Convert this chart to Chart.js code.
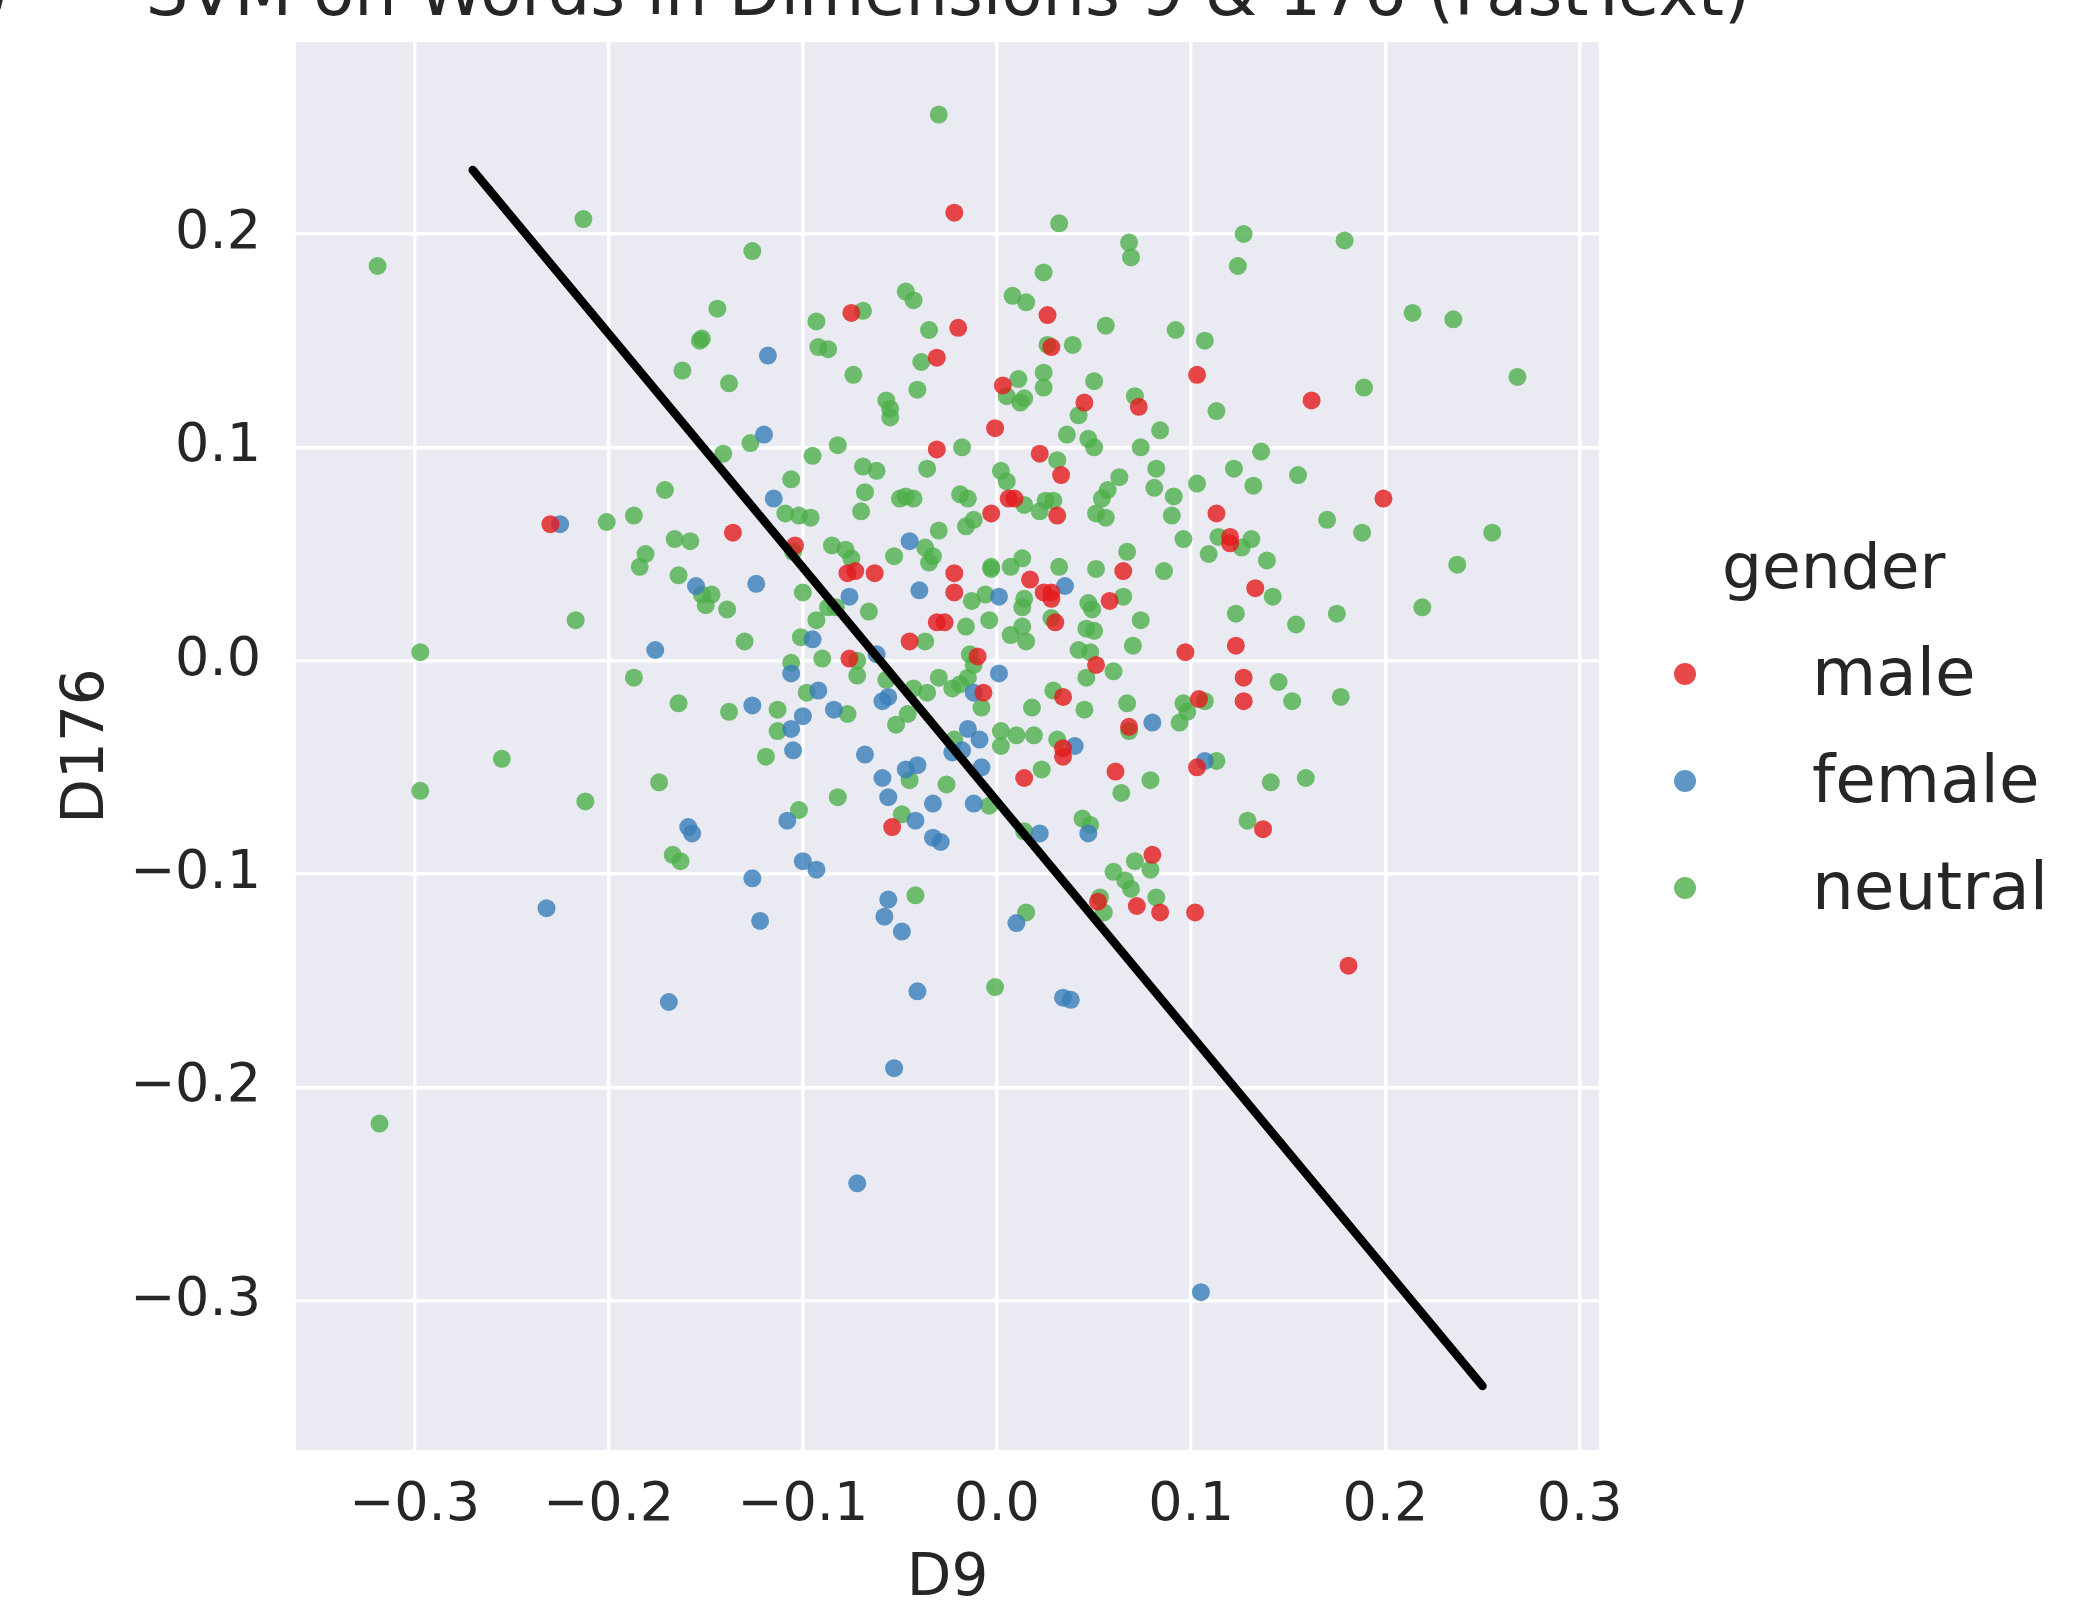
<!DOCTYPE html>
<html>
<head>
<meta charset="utf-8">
<script src="https://cdn.jsdelivr.net/npm/chart.js@4.4.1/dist/chart.umd.min.js"></script>
<style>
  html, body { margin: 0; padding: 0; background: #ffffff; }
  #wrap { width: 2085px; height: 1606px; position: relative; }
</style>
</head>
<body>
<div id="wrap"><canvas id="svm-chart"></canvas></div>
<script>
// [D9, D176] for every word
const male = [
  [-0.022, 0.210], [-0.075, 0.163], [-0.020, 0.156], [0.026, 0.162], [-0.031, 0.142],
  [0.028, 0.147], [0.003, 0.129], [0.045, 0.121], [0.073, 0.119], [-0.001, 0.109],
  [-0.031, 0.099], [0.022, 0.097], [0.033, 0.087], [0.006, 0.076], [0.009, 0.076],
  [-0.003, 0.069], [0.031, 0.068], [0.103, 0.134], [0.162, 0.122], [0.199, 0.076],
  [0.113, 0.069], [0.120, 0.058], [0.120, 0.055], [0.133, 0.034], [0.097, 0.004],
  [0.123, 0.007], [0.127, -0.008], [0.127, -0.019], [0.104, -0.018], [0.103, -0.050],
  [0.137, -0.079], [0.084, -0.118], [0.102, -0.118], [0.181, -0.143], [-0.230, 0.064],
  [-0.136, 0.060], [-0.104, 0.054], [-0.077, 0.041], [-0.073, 0.042], [-0.063, 0.041],
  [-0.022, 0.041], [0.017, 0.038], [0.065, 0.042], [-0.022, 0.032], [0.024, 0.032],
  [0.028, 0.032], [0.028, 0.029], [0.058, 0.028], [-0.031, 0.018], [-0.027, 0.018],
  [0.030, 0.018], [-0.045, 0.009], [-0.076, 0.001], [-0.010, 0.002], [0.051, -0.002],
  [-0.007, -0.015], [0.034, -0.017], [0.068, -0.031], [0.034, -0.041], [0.034, -0.045],
  [0.014, -0.055], [0.061, -0.052], [-0.054, -0.078], [0.080, -0.091], [0.052, -0.113],
  [0.072, -0.115]
];

const female = [
  [-0.118, 0.143], [-0.120, 0.106], [-0.115, 0.076], [-0.225, 0.064], [-0.155, 0.035],
  [-0.176, 0.005], [-0.159, -0.078], [-0.157, -0.081], [-0.232, -0.116], [-0.169, -0.160],
  [-0.041, -0.155], [0.034, -0.158], [0.038, -0.159], [-0.053, -0.191], [-0.072, -0.245],
  [0.105, -0.296], [0.107, -0.047], [-0.045, 0.056], [-0.124, 0.036], [-0.040, 0.033],
  [0.035, 0.035], [0.001, 0.030], [-0.076, 0.030], [-0.095, 0.010], [-0.062, 0.003],
  [-0.106, -0.006], [0.001, -0.006], [-0.012, -0.015], [-0.092, -0.014], [-0.059, -0.019],
  [-0.056, -0.017], [-0.126, -0.021], [-0.100, -0.026], [-0.084, -0.023], [-0.106, -0.032],
  [-0.015, -0.032], [-0.009, -0.037], [0.080, -0.029], [0.040, -0.040], [-0.023, -0.043],
  [-0.018, -0.042], [-0.105, -0.042], [-0.068, -0.044], [-0.047, -0.051], [-0.041, -0.049],
  [-0.008, -0.050], [-0.059, -0.055], [-0.056, -0.064], [-0.033, -0.067], [-0.012, -0.067],
  [-0.108, -0.075], [-0.042, -0.075], [-0.033, -0.083], [-0.029, -0.085], [0.022, -0.081],
  [0.047, -0.081], [-0.100, -0.094], [-0.093, -0.098], [-0.126, -0.102], [-0.056, -0.112],
  [-0.058, -0.120], [-0.122, -0.122], [-0.049, -0.127], [0.010, -0.123]
];

const neutral = [
  [-0.213, 0.207], [-0.319, 0.185], [-0.144, 0.165], [-0.153, 0.150], [-0.152, 0.151],
  [-0.162, 0.136], [-0.138, 0.130], [-0.141, 0.097], [-0.171, 0.080],
  [-0.030, 0.256], [0.032, 0.205], [0.068, 0.196], [0.069, 0.189], [-0.126, 0.192],
  [0.024, 0.182], [-0.047, 0.173], [-0.043, 0.169], [0.008, 0.171], [0.015, 0.168],
  [-0.069, 0.164], [-0.093, 0.159], [-0.035, 0.155], [0.056, 0.157], [-0.092, 0.147],
  [-0.087, 0.146], [-0.039, 0.140], [0.026, 0.148], [0.039, 0.148], [-0.074, 0.134],
  [-0.041, 0.127], [-0.057, 0.122], [-0.055, 0.118], [-0.055, 0.114], [0.011, 0.132],
  [0.024, 0.135], [0.024, 0.128], [0.050, 0.131], [0.005, 0.124], [0.012, 0.121],
  [0.014, 0.123], [0.071, 0.124], [0.042, 0.115], [0.036, 0.106], [0.047, 0.104],
  [0.050, 0.100], [0.084, 0.108], [0.074, 0.100], [-0.127, 0.102], [-0.082, 0.101],
  [-0.018, 0.100], [-0.095, 0.096], [0.031, 0.094], [0.002, 0.089], [0.005, 0.084],
  [-0.069, 0.091], [-0.062, 0.089], [-0.036, 0.090], [-0.106, 0.085], [0.063, 0.086],
  [0.082, 0.090], [0.081, 0.081], [0.057, 0.080], [0.054, 0.076], [-0.068, 0.079],
  [-0.050, 0.076], [-0.047, 0.077], [-0.043, 0.076], [-0.019, 0.078], [-0.015, 0.076],
  [0.014, 0.073], [0.025, 0.075], [0.029, 0.075],
  [0.127, 0.200], [0.179, 0.197], [0.124, 0.185], [0.214, 0.163], [0.235, 0.160],
  [0.268, 0.133], [0.092, 0.155], [0.107, 0.150], [0.189, 0.128], [0.113, 0.117],
  [0.136, 0.098], [0.122, 0.090], [0.103, 0.083], [0.132, 0.082], [0.155, 0.087],
  [0.091, 0.077],
  [0.090, 0.068], [0.170, 0.066], [0.188, 0.060], [0.255, 0.060], [0.237, 0.045],
  [0.219, 0.025], [0.096, 0.057], [0.114, 0.058], [0.126, 0.053], [0.131, 0.057],
  [0.109, 0.050], [0.139, 0.047], [0.086, 0.042], [0.142, 0.030], [0.123, 0.022],
  [0.154, 0.017], [0.175, 0.022], [0.145, -0.010], [0.152, -0.019], [0.177, -0.017],
  [0.107, -0.019], [0.096, -0.020], [0.098, -0.024], [0.094, -0.029], [0.113, -0.047],
  [0.141, -0.057], [0.159, -0.055], [0.129, -0.075], [0.082, -0.111],
  [-0.201, 0.065], [-0.187, 0.068], [-0.166, 0.057], [-0.158, 0.056], [-0.181, 0.050],
  [-0.184, 0.044], [-0.164, 0.040], [-0.152, 0.031], [-0.147, 0.031], [-0.150, 0.026],
  [-0.139, 0.024], [-0.217, 0.019], [-0.297, 0.004], [-0.187, -0.008], [-0.164, -0.020],
  [-0.138, -0.024], [-0.255, -0.046], [-0.297, -0.061], [-0.212, -0.066], [-0.174, -0.057],
  [-0.167, -0.091], [-0.163, -0.094], [-0.318, -0.217], [-0.001, -0.153],
  [-0.109, 0.069], [-0.102, 0.068], [-0.096, 0.067], [-0.070, 0.070], [0.022, 0.070],
  [0.051, 0.069], [0.056, 0.067], [-0.030, 0.061], [-0.016, 0.063], [-0.012, 0.066],
  [-0.105, 0.051], [-0.085, 0.054], [-0.078, 0.052], [-0.075, 0.048], [-0.053, 0.049],
  [-0.037, 0.053], [-0.033, 0.049], [-0.035, 0.046], [0.067, 0.051], [-0.003, 0.044],
  [-0.003, 0.043], [0.007, 0.044], [0.013, 0.048], [0.032, 0.044], [0.051, 0.043],
  [-0.006, 0.031], [-0.013, 0.028], [0.014, 0.029], [0.013, 0.025], [0.047, 0.027],
  [0.049, 0.024], [0.065, 0.030], [-0.100, 0.032], [-0.087, 0.025], [-0.083, 0.025],
  [-0.066, 0.023], [-0.093, 0.019], [-0.016, 0.016], [-0.004, 0.019], [0.028, 0.020],
  [0.074, 0.019], [-0.130, 0.009], [-0.101, 0.011], [-0.037, 0.009], [0.007, 0.012],
  [0.013, 0.016], [0.015, 0.009], [0.046, 0.015], [0.050, 0.014], [0.070, 0.007],
  [0.042, 0.005], [0.048, 0.004], [-0.072, 0.000], [-0.090, 0.001], [-0.106, -0.001],
  [-0.072, -0.007], [-0.014, 0.003], [-0.012, -0.002], [0.060, -0.005], [0.046, -0.008],
  [-0.057, -0.009], [-0.043, -0.013], [-0.036, -0.015], [-0.030, -0.008], [-0.023, -0.013],
  [-0.019, -0.011], [-0.015, -0.008], [-0.008, -0.022], [-0.098, -0.015], [0.029, -0.014],
  [0.067, -0.020], [0.018, -0.022], [0.045, -0.023], [-0.113, -0.023], [-0.077, -0.025],
  [-0.046, -0.025], [-0.052, -0.030], [-0.113, -0.033], [-0.022, -0.037], [0.068, -0.033],
  [0.002, -0.033], [0.002, -0.040], [0.010, -0.035], [0.019, -0.035], [0.031, -0.037],
  [-0.119, -0.045], [-0.045, -0.056], [0.023, -0.051], [0.079, -0.056], [0.064, -0.062],
  [-0.026, -0.058], [-0.082, -0.064], [-0.004, -0.068], [-0.102, -0.070], [-0.049, -0.072],
  [0.014, -0.080], [0.044, -0.074], [0.048, -0.077], [0.071, -0.094], [0.079, -0.098],
  [0.060, -0.099], [0.066, -0.103], [0.069, -0.107], [0.053, -0.111], [0.055, -0.118],
  [-0.042, -0.110], [0.015, -0.118]
];

// SVM decision boundary end points
const boundaryD9 = [-0.270, 0.250];
const boundaryD176 = [0.230, -0.340];

const xTicks = [-0.3, -0.2, -0.1, 0.0, 0.1, 0.2, 0.3];
const yTicks = [-0.3, -0.2, -0.1, 0.0, 0.1, 0.2];

const titleText = 'SVM on Words in Dimensions 9 & 176 (FastText)';
const ink = '#262626';
const font = '"DejaVu Sans", "Liberation Sans", sans-serif';

const toPoints = arr => arr.map(p => ({ x: p[0], y: p[1] }));
const fmt = v => (v < -1e-9 ? '\u2212' : '') + Math.abs(v).toFixed(1);

const plotBackground = {
    id: 'plotBackground',
    beforeDraw(chart) {
        const { ctx, chartArea: a } = chart;
        ctx.save();
        ctx.fillStyle = '#eaeaf2';
        ctx.fillRect(a.left, a.top, a.right - a.left, a.bottom - a.top);
        ctx.restore();
    }
};

// title (cut at the top edge like the original) and the seaborn style legend
const figureText = {
    id: 'figureText',
    afterDraw(chart) {
        const ctx = chart.ctx;
        ctx.save();
        ctx.fillStyle = ink;
        ctx.textBaseline = 'alphabetic';
        ctx.font = '67px ' + font;
        ctx.textAlign = 'center';
        ctx.fillText(titleText, 948, 15);
        ctx.textAlign = 'right';
        ctx.fillText('(b)', 9, 15);

        ctx.textAlign = 'left';
        ctx.font = '63px ' + font;
        ctx.fillText('gender', 1722, 588);

        const entries = chart.data.datasets.filter(d => d.legend);
        entries.forEach((d, i) => {
            const cy = 674 + i * 107;
            ctx.beginPath();
            ctx.arc(1685, cy, 11, 0, Math.PI * 2);
            ctx.fillStyle = d.backgroundColor;
            ctx.fill();
            ctx.fillStyle = ink;
            ctx.font = '66px ' + font;
            ctx.fillText(d.label, 1812, cy + 21);
        });
        ctx.restore();
    }
};

document.addEventListener('DOMContentLoaded', () => {
    const canvas = document.getElementById('svm-chart');

    new Chart(canvas, {
        type: 'scatter',
        data: {
            datasets: [
                {
                    label: 'boundary',
                    data: boundaryD9.map((x, i) => ({ x: x, y: boundaryD176[i] })),
                    showLine: true,
                    borderColor: '#000000',
                    borderWidth: 8.5,
                    borderCapStyle: 'round',
                    pointRadius: 0,
                    fill: false
                },
                {
                    label: 'male',
                    legend: true,
                    data: toPoints(male),
                    backgroundColor: 'rgba(228, 26, 28, 0.8)',
                    borderWidth: 0,
                    pointRadius: 9
                },
                {
                    label: 'female',
                    legend: true,
                    data: toPoints(female),
                    backgroundColor: 'rgba(55, 126, 184, 0.8)',
                    borderWidth: 0,
                    pointRadius: 9
                },
                {
                    label: 'neutral',
                    legend: true,
                    data: toPoints(neutral),
                    backgroundColor: 'rgba(77, 175, 74, 0.8)',
                    borderWidth: 0,
                    pointRadius: 9
                }
            ]
        },
        options: {
            responsive: true,
            maintainAspectRatio: false,
            animation: false,
            devicePixelRatio: 1,
            layout: {
                padding: { left: 0, top: 42, right: 486, bottom: 0 }
            },
            scales: {
                x: {
                    type: 'linear',
                    min: -0.361,
                    max: 0.310,
                    afterBuildTicks: s => { s.ticks = xTicks.map(v => ({ value: v })); },
                    afterFit: s => { s.height = 156; s.paddingLeft = 0; s.paddingRight = 0; },
                    grid: { color: '#ffffff', lineWidth: 3.5, drawTicks: false },
                    border: { display: false },
                    ticks: {
                        font: { family: font, size: 54 },
                        color: ink,
                        padding: 24,
                        maxRotation: 0,
                        autoSkip: false,
                        callback: fmt
                    },
                    title: {
                        display: true,
                        text: 'D9',
                        color: ink,
                        font: { family: font, size: 58, lineHeight: 0.9 },
                        padding: 0
                    }
                },
                y: {
                    type: 'linear',
                    min: -0.370,
                    max: 0.290,
                    afterBuildTicks: s => { s.ticks = yTicks.map(v => ({ value: v })); },
                    afterFit: s => { s.width = 296; s.paddingTop = 0; s.paddingBottom = 0; },
                    grid: { color: '#ffffff', lineWidth: 3.5, drawTicks: false },
                    border: { display: false },
                    ticks: {
                        font: { family: font, size: 54 },
                        color: ink,
                        padding: 35,
                        autoSkip: false,
                        callback: fmt
                    },
                    title: {
                        display: true,
                        text: 'D176',
                        color: ink,
                        font: { family: font, size: 58 },
                        padding: { top: 53, bottom: 0 }
                    }
                }
            },
            plugins: {
                legend: { display: false },
                tooltip: { enabled: false }
            }
        },
        plugins: [plotBackground, figureText]
    });
});
</script>
</body>
</html>
